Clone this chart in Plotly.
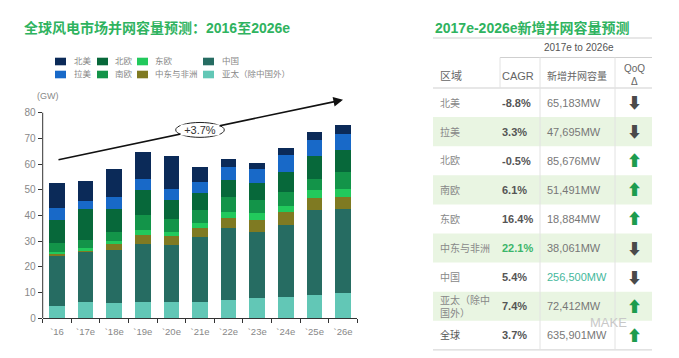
import plotly.graph_objects as go

# ---------------- data ----------------
years = ["`16", "`17e", "`18e", "`19e", "`20e", "`21e", "`22e", "`23e", "`24e", "`25e", "`26e"]

# stacked from bottom to top (GW)
apac  = [4.8, 6.5, 5.8, 6.5, 6.5, 6.5, 7.1, 7.8, 8.2, 9.0, 10.0]
china = [19.8, 19.2, 20.7, 22.6, 22.0, 25.3, 28.0, 25.9, 28.0, 33.3, 32.6]
mea   = [0.5, 0.8, 2.6, 3.2, 3.5, 3.2, 4.1, 4.5, 5.2, 4.5, 4.7]
east  = [0.8, 0.7, 0.9, 2.0, 1.6, 2.2, 2.2, 2.6, 2.2, 3.2, 3.2]
south = [3.3, 3.2, 3.6, 5.8, 5.2, 4.9, 5.9, 5.4, 5.6, 4.3, 6.5]
north = [9.2, 12.3, 9.1, 10.0, 7.2, 6.5, 6.5, 6.5, 7.8, 8.7, 8.5]
latam = [4.6, 2.9, 4.6, 4.2, 4.5, 4.6, 5.2, 5.3, 6.5, 6.4, 6.1]
namer = [9.5, 8.0, 10.9, 10.4, 12.7, 5.8, 2.8, 2.5, 2.7, 3.0, 3.6]

series_names = ["亚太（除中国外）", "中国", "中东与非洲", "东欧", "南欧", "北欧", "拉美", "北美"]
series_vals = [apac, china, mea, east, south, north, latam, namer]
series_colors = ["#62c7b6", "#266c62", "#7f7a22", "#22c95c", "#139449", "#07683a", "#1869c8", "#0b2a58"]

legend_rows = [["北美", "北欧", "东欧", "中国"],
               ["拉美", "南欧", "中东与非洲", "亚太（除中国外）"]]

y_ticks = [0, 10, 20, 30, 40, 50, 60, 70, 80]
trend_label = "+3.7%"
trend_start, trend_end = 61.6, 85.0

# table data
t_regions = ["北美", "拉美", "北欧", "南欧", "东欧", "中东与非洲", "中国", "亚太（除中<br>国外）", "全球"]
t_cagr = ["-8.8%", "3.3%", "-0.5%", "6.1%", "16.4%", "22.1%", "5.4%", "7.4%", "3.7%"]
t_cap = ["65,183MW", "47,695MW", "85,676MW", "51,491MW", "18,884MW", "38,061MW", "256,500MW", "72,412MW", "635,901MW"]
t_qoq = ["down", "down", "up", "up", "up", "down", "down", "up", "up"]

# ---------------- layout helpers ----------------
W, H = 679, 358
FONT = "Arial, Liberation Sans, Noto Sans CJK SC, sans-serif"
GREEN_T = "#2fb35f"


def px(x):
    return x / W


def py(y):
    return 1 - y / H


fig = go.Figure()
for name, vals, col in zip(series_names, series_vals, series_colors):
    fig.add_bar(x=years, y=vals, name=name, marker=dict(color=col, line=dict(width=0)))

y_bottom_px, y_top_px = 318.3, 94.7
fig.update_layout(
    barmode="stack", bargap=0.45, showlegend=False,
    width=W, height=H, margin=dict(l=0, r=0, t=0, b=0),
    plot_bgcolor="white", paper_bgcolor="white",
    font=dict(family=FONT, color="#777"),
    xaxis=dict(domain=[px(42.7), px(357.3)], type="category", showline=True, linecolor="#333",
               linewidth=1, ticks="outside", tickson="boundaries", ticklen=4, tickcolor="#333",
               tickangle=0, tickfont=dict(size=9.5, color="#888"), ticklabelstandoff=4,
               showgrid=False, automargin=False, fixedrange=True),
    yaxis=dict(domain=[py(y_bottom_px), py(y_top_px)], range=[0, 87], showline=False,
               tickvals=y_ticks, ticks="outside", ticklen=4, tickcolor="#333",
               tickfont=dict(size=10, color="#888"), showgrid=False, zeroline=False, automargin=False),
)

shapes = []
ann = []

# y axis line 0..80
shapes.append(dict(type="line", xref="x domain", yref="y", x0=0, x1=0, y0=0, y1=max(y_ticks),
                   line=dict(color="#333", width=1)))

# trend ellipse
shapes.append(dict(type="circle", xref="x", yref="y", x0=4.15, x1=5.85, y0=70.4, y1=76.2,
                   fillcolor="white", line=dict(color="#222", width=1), layer="above"))
# trend arrow
ann.append(dict(x=years[-1], y=trend_end, ax=years[0], ay=trend_start, xref="x", yref="y",
                axref="x", ayref="y", text="", showarrow=True, arrowhead=2, arrowsize=1.2,
                arrowwidth=1.6, arrowcolor="#111"))
ann.append(dict(x=5, y=73.3, xref="x", yref="y", text=trend_label, showarrow=False,
                font=dict(size=11, color="#333"), bgcolor="white", width=38, height=10, borderpad=0))

# titles
ann.append(dict(x=px(22), y=py(28), xref="paper", yref="paper", xanchor="left", yanchor="middle",
                text="<b>全球风电市场并网容量预测：2016至2026e</b>", showarrow=False,
                font=dict(size=14, color=GREEN_T)))
ann.append(dict(x=px(35), y=py(96), xref="paper", yref="paper", xanchor="left", yanchor="middle",
                text="(GW)", showarrow=False, font=dict(size=9, color="#888")))

# legend
col_sq = [55, 97, 137, 203]
col_tx = [72, 113, 153, 220]
row_y = [61.5, 74.5]
color_of = dict(zip(series_names, series_colors))
for r, row in enumerate(legend_rows):
    for c, name in enumerate(row):
        yc = row_y[r]
        shapes.append(dict(type="rect", xref="paper", yref="paper", x0=px(col_sq[c]), x1=px(col_sq[c] + 11),
                           y0=py(yc + 3.8), y1=py(yc - 3.8), fillcolor=color_of[name], line=dict(width=0)))
        ann.append(dict(x=px(col_tx[c]), y=py(yc), xref="paper", yref="paper", xanchor="left",
                        yanchor="middle", text=name, showarrow=False, font=dict(size=8.5, color="#888")))

# ---------------- table ----------------
ann.append(dict(x=px(433), y=py(28), xref="paper", yref="paper", xanchor="left", yanchor="middle",
                text="<b>2017e-2026e新增并网容量预测</b>", showarrow=False, font=dict(size=14, color=GREEN_T)))
tl, tr = 433, 652
line_c = "#cfcfcf"
top_rows, row_h = 88.0, 29.1
for i in range(len(t_regions)):
    if i % 2 == 1:
        shapes.append(dict(type="rect", xref="paper", yref="paper", x0=px(tl), x1=px(tr),
                           y0=py(top_rows + (i + 1) * row_h), y1=py(top_rows + i * row_h),
                           fillcolor="#e9f5e2", line=dict(width=0), layer="below"))
for (x0, x1, yy) in [(tl, tr, 38), (500, tr, 57.5), (tl, tr, 88), (tl, tr, top_rows + len(t_regions) * row_h)]:
    shapes.append(dict(type="line", xref="paper", yref="paper", x0=px(x0), x1=px(x1), y0=py(yy), y1=py(yy),
                       line=dict(color=line_c, width=1)))
for (xx, y0, y1) in [(500, 57.5, 88), (540, 57.5, top_rows + len(t_regions) * row_h),
                     (615, 57.5, top_rows + len(t_regions) * row_h)]:
    shapes.append(dict(type="line", xref="paper", yref="paper", x0=px(xx), x1=px(xx), y0=py(y0), y1=py(y1),
                       line=dict(color="#e2e2e2", width=1)))


def tx(x, y, text, size=11, color="#666", anchor="left"):
    ann.append(dict(x=px(x), y=py(y), xref="paper", yref="paper", xanchor=anchor, yanchor="middle",
                    text=text, showarrow=False, font=dict(size=size, color=color), align=anchor))


tx(579, 47.5, "2017e to 2026e", size=10, color="#555", anchor="center")
tx(438, 76, "区域", size=11, color="#666")
tx(500, 76, "CAGR", size=11, color="#666")
tx(545, 76, "新增并网容量", size=10, color="#666")
tx(634, 69, "QoQ", size=10, color="#666", anchor="center")
tx(634, 81, "Δ", size=10, color="#666", anchor="center")

for i in range(len(t_regions)):
    yc = top_rows + (i + 0.5) * row_h
    tx(438, yc, t_regions[i], size=10, color="#555" if t_regions[i] == "全球" else "#888")
    cag_col = "#3cb56a" if t_cagr[i] == "22.1%" else "#555"
    tx(500, yc, "<b>" + t_cagr[i] + "</b>", size=11, color=cag_col)
    cap_col = "#45b89c" if t_cap[i] == "256,500MW" else "#777"
    tx(545, yc, t_cap[i], size=11, color=cap_col)
    up = t_qoq[i] == "up"
    tx(634, yc, "⬆" if up else "⬇", size=15, color="#1d9c4e" if up else "#4a4a4a", anchor="center")

# watermark
tx(588, 322, "MAKE", size=13, color="#c8c8c8")

fig.update_layout(shapes=shapes, annotations=ann)
fig.write_html("out.html", config={"displayModeBar": False},
               post_script="document.body.style.margin='0px';")
